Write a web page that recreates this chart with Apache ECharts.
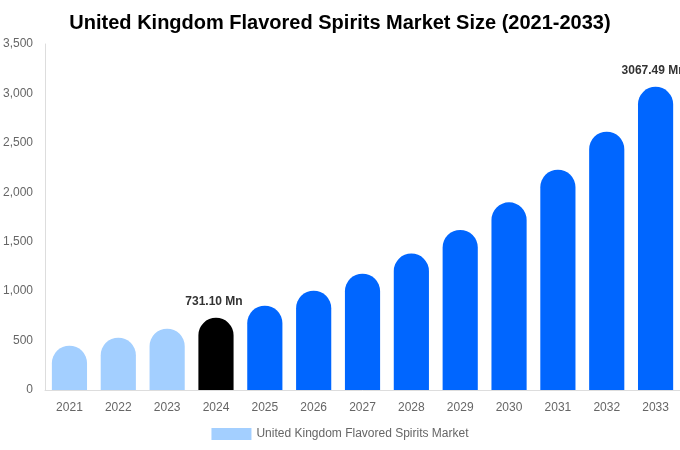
<!DOCTYPE html>
<html>
<head>
<meta charset="utf-8">
<script src="https://cdn.jsdelivr.net/npm/echarts@6/dist/echarts.min.js"></script>
<style>html,body{margin:0;padding:0;background:#fff}#c{width:680px;height:450px}</style>
</head>
<body>
<div id="c"></div>
<script>
const categories = ['2021','2022','2023','2024','2025','2026','2027','2028','2029','2030','2031','2032','2033'];
const values = [448, 529, 620, 731.10, 853, 1005, 1177, 1381, 1619, 1898, 2229, 2613, 3067.49];
const barColors = ['#a3cfff','#a3cfff','#a3cfff','#000000','#0066ff','#0066ff','#0066ff','#0066ff','#0066ff','#0066ff','#0066ff','#0066ff','#0066ff'];
const labelledIndices = [3, 12];
const seriesName = 'United Kingdom Flavored Spirits Market';

const chart = echarts.init(document.getElementById('c'));
chart.setOption({
  animation: false,
  title: {
    text: 'United Kingdom Flavored Spirits Market Size (2021-2033)',
    left: 'center', top: 8,
    textStyle: { fontFamily: 'Liberation Sans, Arial, sans-serif', fontSize: 20, fontWeight: 'bold', color: '#000' }
  },
  legend: {
    bottom: 5, left: 'center',
    itemWidth: 40, itemHeight: 12,
    icon: 'rect',
    textStyle: { fontFamily: 'Liberation Sans, Arial, sans-serif', fontSize: 12, color: '#666' },
    data: [{ name: seriesName, itemStyle: { color: '#a3cfff' } }]
  },
  grid: { left: 43, right: 0, top: 44, bottom: 60, containLabel: false },
  xAxis: {
    type: 'category', data: categories,
    axisLine: { lineStyle: { color: '#dddddd' } },
    axisTick: { show: false },
    axisLabel: { fontFamily: 'Liberation Sans, Arial, sans-serif', fontSize: 12, color: '#666', margin: 12 }
  },
  yAxis: {
    type: 'value', min: 0, max: 3500, interval: 500,
    axisLine: { show: true, lineStyle: { color: '#dddddd' } },
    axisTick: { show: false },
    splitLine: { show: false },
    axisLabel: { fontFamily: 'Liberation Sans, Arial, sans-serif', fontSize: 12, color: '#666', margin: 12,
      formatter: v => v.toLocaleString('en-US') }
  },
  series: [{
    name: seriesName, type: 'bar', barWidth: '72%',
    data: values.map((v, i) => ({
      value: v,
      itemStyle: { color: barColors[i], borderRadius: [18, 18, 0, 0] },
      label: labelledIndices.includes(i) ? {
        show: true, position: 'top', distance: 10, offset: [-2, 0],
        formatter: p => p.value.toFixed(2) + ' Mn',
        fontFamily: 'Liberation Sans, Arial, sans-serif', fontSize: 12, fontWeight: 'bold', color: '#333'
      } : { show: false }
    }))
  }]
});
</script>
</body>
</html>
